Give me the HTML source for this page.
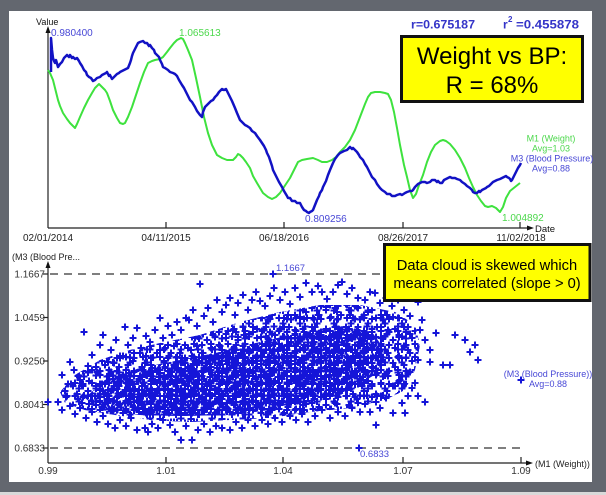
<!DOCTYPE html>
<html><head><meta charset="utf-8"><style>
html,body{margin:0;padding:0;background:#63676f;}
svg{display:block;font-family:"Liberation Sans",sans-serif;}
</style></head><body>
<svg width="606" height="495" viewBox="0 0 606 495" xmlns="http://www.w3.org/2000/svg">
<defs>
<pattern id="p1" patternUnits="userSpaceOnUse" x="0" y="0" width="31" height="23">
<path fill="none" stroke="#1515d8" stroke-width="2" d="M1.5 5h7M5 1.5v7M12.5 8h7M16 4.5v7M22.5 4.5h7M26 1v7M5.5 16h7M9 12.5v7M17.5 18h7M21 14.5v7M23.5 13h7M27 9.5v7"/>
</pattern>
<pattern id="p2" patternUnits="userSpaceOnUse" x="0" y="0" width="23" height="19">
<path fill="none" stroke="#1515d8" stroke-width="2" d="M0.5 6h7M4 2.5v7M9.5 4h7M13 0.5v7M15.5 11h7M19 7.5v7M4.5 14h7M8 10.5v7M11.5 15.5h7M15 12v7"/>
</pattern>
<pattern id="p2b" patternUnits="userSpaceOnUse" x="7" y="5" width="23" height="19">
<path fill="none" stroke="#1515d8" stroke-width="2" d="M0.5 6h7M4 2.5v7M9.5 4h7M13 0.5v7M15.5 11h7M19 7.5v7M4.5 14h7M8 10.5v7M11.5 15.5h7M15 12v7"/>
</pattern>
<pattern id="p3" patternUnits="userSpaceOnUse" x="3" y="2" width="17" height="13">
<path fill="none" stroke="#1515d8" stroke-width="2" d="M0.5 4h7M4 0.5v7M8.5 5h7M12 1.5v7M4.5 9.5h7M8 6v7"/>
</pattern>
<pattern id="p3b" patternUnits="userSpaceOnUse" x="11" y="8" width="17" height="13">
<path fill="none" stroke="#1515d8" stroke-width="2" d="M0.5 4h7M4 0.5v7M8.5 5h7M12 1.5v7M4.5 9.5h7M8 6v7"/>
</pattern>
<pattern id="p4" patternUnits="userSpaceOnUse" x="5" y="1" width="13" height="11">
<path fill="none" stroke="#1515d8" stroke-width="2" d="M0.5 4h7M4 0.5v7M5.5 7.5h7M9 4v7"/>
</pattern>
<clipPath id="r2"><polygon points="60,392 75,375 100,360 130,350 160,343 200,335 240,322 280,312 320,305 360,305 395,312 415,325 420,345 415,370 405,390 385,400 350,408 310,412 270,418 230,420 190,422 150,420 115,415 85,410 65,403"/></clipPath>
<clipPath id="r3"><polygon points="85,398 105,380 140,368 180,360 220,352 260,342 300,333 340,326 372,332 385,350 378,372 350,392 310,402 270,410 230,415 180,416 140,415 100,410"/></clipPath>
</defs>
<rect x="0" y="0" width="606" height="495" fill="#63676f"/>
<rect x="0" y="492" width="606" height="3" fill="#d9d9d9"/>
<rect x="9" y="11" width="583" height="471" fill="#ffffff"/>

<!-- TOP CHART -->
<g stroke="#222" stroke-width="1.2" fill="none">
<line x1="48" y1="228" x2="48" y2="31"/>
<line x1="48" y1="228" x2="529" y2="228"/>
<line x1="166" y1="222" x2="166" y2="228"/>
<line x1="284" y1="222" x2="284" y2="228"/>
<line x1="403" y1="222" x2="403" y2="228"/>
<line x1="520" y1="222" x2="520" y2="228"/>
</g>
<polygon points="48,26 45.5,33 50.5,33" fill="#111"/>
<polygon points="534,228 527,225.5 527,230.5" fill="#111"/>
<text x="36" y="25" font-size="9" fill="#111">Value</text>
<text x="535" y="232" font-size="9.5" fill="#111">Date</text>
<g font-size="10" fill="#222" text-anchor="middle">
<text x="48" y="241">02/01/2014</text>
<text x="166" y="241">04/11/2015</text>
<text x="284" y="241">06/18/2016</text>
<text x="403" y="241">08/26/2017</text>
<text x="521" y="241">11/02/2018</text>
</g>

<polyline fill="none" stroke="#3ee23e" stroke-width="2" stroke-linejoin="round" points="48,70 50,73 53,80 55,88 58,100 60,106 63,113 67,119 70,123 73,126 75,128 77,124 80,117 84,108 88,100 92,93 95,88 99,84 102,87 105,90 107,93 110,101 113,110 117,118 120,123 123,124 125,123 128,117 132,107 136,95 140,83 144,72 148,63 152,61 155,60 160,59 163,57 167,52 170,48 174,43 177,40 181,38 183,39 185,43 188,50 192,60 196,78 200,97 204,117 208,133 212,145 217,155 222,158 227,160 233,160 236,157 238,154 240,155 243,158 246,162 250,168 253,176 257,183 260,188 263,193 268,197 272,199 276,197 280,193 284,187 290,178 295,168 298,162 302,160 307,159 313,158 318,160 322,162 327,162 332,160 336,157 340,152 345,147 350,140 355,130 360,117 365,104 368,97 371,93 375,92 380,92 385,93 388,94 391,100 394,112 397,128 400,145 404,165 407,177 410,190 413,198 416,194 419,185 423,175 427,162 431,152 435,145 440,141 443,140 446,141 450,144 455,150 460,158 465,168 469,178 473,187 477,195 481,201 485,206 488,207 492,206 496,208 500,212 503,207 506,198 510,191 515,187 520,183"/>
<polyline fill="none" stroke="#1212c4" stroke-width="2.5" stroke-linejoin="round" points="51,72 51,38 52,50 53,58 54,61 55,63 56,60 58,67 60,64 62,62 64,58 67,55 69,57 70,55 72,58 73,57 75,59 77,58 79,61 80,63 82,66 84,70 86,72 87,75 89,77 91,78 93,81 95,80 97,78 100,77 102,75 104,74 106,73 107,72 109,76 110,75 112,79 113,78 115,76 117,74 119,73 120,72 122,71 124,70 126,69 128,68 130,63 131,60 132,56 133,53 135,49 136,47 137,45 138,43 140,42 143,41 145,43 147,43 149,46 150,45 152,48 154,50 155,53 157,55 159,57 160,60 162,64 163,67 165,68 168,70 170,72 173,73 175,74 177,76 179,80 182,85 184,88 186,92 188,96 190,100 192,102 195,107 197,111 200,115 202,117 203,112 205,107 207,105 209,103 211,101 213,100 215,97 217,95 219,92 222,89 224,90 226,89 228,93 230,97 232,101 235,108 237,113 240,120 242,122 245,125 247,126 250,128 252,131 255,133 257,136 260,140 262,143 264,146 266,150 267,153 269,157 270,160 272,166 273,170 275,174 277,178 279,182 282,187 284,191 287,196 288,198 290,198 292,201 295,201 297,203 300,203 302,207 304,210 306,211 307,212 309,213 310,212 312,211 313,210 315,205 317,200 319,196 320,193 322,190 323,187 326,181 328,175 330,170 333,163 335,159 338,155 340,153 342,152 344,151 347,150 349,148 350,147 352,149 353,148 355,150 357,152 359,155 360,157 362,159 363,160 365,164 367,167 369,171 370,173 372,177 375,180 377,184 380,188 382,190 385,192 387,194 390,194 392,196 395,196 397,195 400,194 402,195 405,193 407,192 410,191 412,191 413,190 415,187 416,186 418,184 420,183 422,182 425,182 427,183 430,182 432,180 435,180 437,182 438,181 440,183 442,183 444,180 446,179 448,178 450,177 452,178 455,178 457,179 460,180 462,182 465,184 467,186 470,188 472,190 473,192 475,193 477,193 479,191 480,192 482,190 484,189 486,188 487,187 489,186 491,184 493,182 495,181 497,180 500,179 502,178 504,177 506,176 507,177 509,178 510,179 511,181 512,180 514,176 515,174 517,170 518,168 520,165 521,163"/>

<text x="51" y="36" font-size="10" fill="#4848d6">0.980400</text>
<text x="179" y="36" font-size="10" fill="#4cd84c">1.065613</text>
<text x="305" y="222" font-size="10" fill="#4848d6">0.809256</text>
<text x="502" y="221" font-size="10" fill="#4cd84c">1.004892</text>

<g font-size="9" text-anchor="middle">
<text x="551" y="141.5" fill="#4cd84c">M1 (Weight)</text>
<text x="551" y="151.5" fill="#4cd84c">Avg=1.03</text>
<text x="552" y="161.5" fill="#4848d6">M3 (Blood Pressure)</text>
<text x="551" y="171.5" fill="#4848d6">Avg=0.88</text>
</g>

<g font-weight="bold" fill="#3434c8">
<text x="411" y="28.5" font-size="12" textLength="64" lengthAdjust="spacingAndGlyphs">r=0.675187</text>
<text x="503" y="28.5" font-size="12">r</text>
<text x="508" y="22" font-size="8">2</text>
<text x="516" y="28.5" font-size="12" textLength="63" lengthAdjust="spacingAndGlyphs">=0.455878</text>
</g>

<rect x="401.5" y="36.5" width="181" height="65" fill="#ffff00" stroke="#111" stroke-width="3"/>
<g font-size="24" fill="#000" text-anchor="middle">
<text x="492" y="64">Weight vs BP:</text>
<text x="492" y="93">R = 68%</text>
</g>

<!-- BOTTOM CHART -->
<g stroke="#555" stroke-width="1.4" stroke-dasharray="8,6" fill="none">
<line x1="50" y1="274" x2="521" y2="274"/>
<line x1="50" y1="448" x2="521" y2="448"/>
</g>
<g stroke="#222" stroke-width="1.2" fill="none">
<line x1="48" y1="463" x2="48" y2="266"/>
<line x1="48" y1="463" x2="528" y2="463"/>
<line x1="166" y1="457" x2="166" y2="463"/>
<line x1="283" y1="457" x2="283" y2="463"/>
<line x1="403" y1="457" x2="403" y2="463"/>
<line x1="521" y1="457" x2="521" y2="463"/>
<line x1="43" y1="274" x2="48" y2="274"/>
<line x1="43" y1="317.5" x2="48" y2="317.5"/>
<line x1="43" y1="361" x2="48" y2="361"/>
<line x1="43" y1="404.5" x2="48" y2="404.5"/>
<line x1="43" y1="448" x2="48" y2="448"/>
</g>
<polygon points="48,261 45.5,268 50.5,268" fill="#111"/>
<polygon points="533,463 526,460.5 526,465.5" fill="#111"/>
<text x="12" y="260" font-size="9" fill="#222">(M3 (Blood Pre...</text>
<text x="535" y="467" font-size="9" fill="#222">(M1 (Weight))</text>
<g font-size="10" fill="#333" text-anchor="end">
<text x="45" y="277.5">1.1667</text>
<text x="45" y="321">1.0459</text>
<text x="45" y="364.5">0.9250</text>
<text x="45" y="408">0.8041</text>
<text x="45" y="451.5">0.6833</text>
</g>
<g font-size="10" fill="#333" text-anchor="middle">
<text x="48" y="474">0.99</text>
<text x="166" y="474">1.01</text>
<text x="283" y="474">1.04</text>
<text x="403" y="474">1.07</text>
<text x="521" y="474">1.09</text>
</g>

<!-- scatter cloud -->
<g clip-path="url(#r2)">
<rect x="40" y="280" width="400" height="160" fill="url(#p1)"/>
<rect x="40" y="280" width="400" height="160" fill="url(#p2)"/>
<rect x="40" y="280" width="400" height="160" fill="url(#p3)"/>
</g>
<g clip-path="url(#r3)">
<rect x="40" y="280" width="400" height="160" fill="url(#p4)"/>
<rect x="40" y="280" width="400" height="160" fill="url(#p2b)"/>
<rect x="40" y="280" width="400" height="160" fill="url(#p3b)"/>
</g>
<path fill="none" stroke="#1515d8" stroke-width="2" d="
M58.5 375h7M62 371.5v7 M64.5 384h7M68 380.5v7 M66.5 362h7M70 358.5v7 M70.5 370h7M74 366.5v7 M76.5 380h7M80 376.5v7 M80.5 332h7M84 328.5v7 M84.5 366h7M88 362.5v7 M88.5 355h7M92 351.5v7 M93.5 372h7M97 368.5v7 M96.5 345h7M100 341.5v7
M99.5 335h7M103 331.5v7 M104.5 362h7M108 358.5v7 M107.5 350h7M111 346.5v7 M112.5 340h7M116 336.5v7 M116.5 356h7M120 352.5v7 M121.5 327h7M125 323.5v7 M124.5 345h7M128 341.5v7 M129.5 338h7M133 334.5v7 M133.5 328h7M137 324.5v7 M137.5 348h7M141 344.5v7
M142.5 336h7M146 332.5v7 M146.5 342h7M150 338.5v7 M151.5 330h7M155 326.5v7 M156.5 318h7M160 314.5v7 M159.5 338h7M163 334.5v7 M164.5 326h7M168 322.5v7 M168.5 335h7M172 331.5v7 M173.5 322h7M177 318.5v7 M177.5 330h7M181 326.5v7 M182.5 318h7M186 314.5v7
M185.5 320h7M189 316.5v7 M189.5 310h7M193 306.5v7 M193.5 326h7M197 322.5v7 M196.5 284h7M200 280.5v7 M200.5 316h7M204 312.5v7 M204.5 308h7M208 304.5v7 M209.5 322h7M213 318.5v7 M213.5 300h7M217 296.5v7 M218.5 312h7M222 308.5v7 M222.5 305h7M226 301.5v7
M226.5 298h7M230 294.5v7 M231.5 315h7M235 311.5v7 M234.5 303h7M238 299.5v7 M239.5 295h7M243 291.5v7 M244.5 310h7M248 306.5v7 M248.5 300h7M252 296.5v7 M252.5 292h7M256 288.5v7 M256.5 301h7M260 297.5v7 M261.5 306h7M265 302.5v7 M266.5 296h7M270 292.5v7
M270.5 288h7M274 284.5v7 M276.5 300h7M280 296.5v7 M281.5 292h7M285 288.5v7 M286.5 304h7M290 300.5v7 M291.5 288h7M295 284.5v7 M296.5 297h7M300 293.5v7 M302.5 283h7M306 279.5v7 M308.5 292h7M312 288.5v7 M314.5 286h7M318 282.5v7 M318.5 292h7M322 288.5v7
M323.5 299h7M327 295.5v7 M329.5 292h7M333 288.5v7 M334.5 285h7M338 281.5v7 M338.5 282h7M342 278.5v7 M343.5 294h7M347 290.5v7 M348.5 288h7M352 284.5v7 M354.5 298h7M358 294.5v7 M361.5 300h7M365 296.5v7 M366.5 292h7M370 288.5v7 M371.5 293h7M375 289.5v7
M376.5 303h7M380 299.5v7 M382.5 298h7M386 294.5v7 M388.5 306h7M392 302.5v7 M394.5 300h7M398 296.5v7 M400.5 310h7M404 306.5v7 M406.5 316h7M410 312.5v7 M414.5 302h7M418 298.5v7 M418.5 320h7M422 316.5v7 M421.5 340h7M425 336.5v7 M426.5 350h7M430 346.5v7
M432.5 333h7M436 329.5v7 M439.5 365h7M443 361.5v7 M446.5 365h7M450 361.5v7 M451.5 335h7M455 331.5v7 M461.5 340h7M465 336.5v7 M466.5 352h7M470 348.5v7 M471.5 345h7M475 341.5v7 M474.5 360h7M478 356.5v7 M416.5 330h7M420 326.5v7 M426.5 362h7M430 358.5v7
M54.5 402h7M58 398.5v7 M44.5 402h7M48 398.5v7 M58.5 410h7M62 406.5v7 M66.5 406h7M70 402.5v7 M71.5 414h7M75 410.5v7 M76.5 408h7M80 404.5v7 M82.5 418h7M86 414.5v7 M88.5 412h7M92 408.5v7 M93.5 422h7M97 418.5v7 M99.5 416h7M103 412.5v7
M104.5 424h7M108 420.5v7 M111.5 428h7M115 424.5v7 M116.5 420h7M120 416.5v7 M122.5 426h7M126 422.5v7 M127.5 418h7M131 414.5v7 M133.5 430h7M137 426.5v7 M141.5 428h7M145 424.5v7 M144.5 432h7M148 428.5v7 M148.5 424h7M152 420.5v7 M154.5 428h7M158 424.5v7
M159.5 420h7M163 416.5v7 M166.5 425h7M170 421.5v7 M171.5 432h7M175 428.5v7 M177.5 440h7M181 436.5v7 M182.5 426h7M186 422.5v7 M188.5 440h7M192 436.5v7 M194.5 430h7M198 426.5v7 M200.5 424h7M204 420.5v7 M206.5 432h7M210 428.5v7 M212.5 426h7M216 422.5v7
M218.5 428h7M222 424.5v7 M226.5 430h7M230 426.5v7 M232.5 422h7M236 418.5v7 M238.5 428h7M242 424.5v7 M244.5 420h7M248 416.5v7 M251.5 426h7M255 422.5v7 M258.5 420h7M262 416.5v7 M264.5 424h7M268 420.5v7 M271.5 418h7M275 414.5v7 M278.5 422h7M282 418.5v7
M286.5 416h7M290 412.5v7 M292.5 420h7M296 416.5v7 M298.5 414h7M302 410.5v7 M304.5 422h7M308 418.5v7 M311.5 416h7M315 412.5v7 M318.5 410h7M322 406.5v7 M326.5 418h7M330 414.5v7 M334.5 412h7M338 408.5v7 M341.5 416h7M345 412.5v7 M348.5 408h7M352 404.5v7
M356.5 412h7M360 408.5v7 M361.5 404h7M365 400.5v7 M366.5 412h7M370 408.5v7 M372.5 402h7M376 398.5v7 M376.5 408h7M380 404.5v7 M382.5 398h7M386 394.5v7 M389.5 413h7M393 409.5v7 M396.5 380h7M400 376.5v7 M401.5 413h7M405 409.5v7 M404.5 396h7M408 392.5v7
M408.5 388h7M412 384.5v7 M411.5 383h7M415 379.5v7 M414.5 396h7M418 392.5v7 M421.5 402h7M425 398.5v7 M406.5 372h7M410 368.5v7 M414.5 360h7M418 356.5v7 M372.5 425h7M376 421.5v7 M398.5 403h7M402 399.5v7
M269.5 274h7M273 270.5v7 M355.5 448h7M359 444.5v7 M517.5 380h7M521 376.5v7"/>

<text x="276" y="271" font-size="9.5" fill="#4848d6">1.1667</text>
<text x="360" y="457" font-size="9.5" fill="#4848d6">0.6833</text>
<g font-size="9" text-anchor="middle" fill="#4848d6">
<text x="548" y="377">(M3 (Blood Pressure))</text>
<text x="548" y="387">Avg=0.88</text>
</g>

<rect x="384.5" y="244.5" width="205.5" height="56" fill="#ffff00" stroke="#111" stroke-width="3"/>
<g font-size="14.7" fill="#000" text-anchor="middle">
<text x="487" y="270">Data cloud is skewed which</text>
<text x="487" y="288">means correlated (slope &gt; 0)</text>
</g>
</svg>
</body></html>
